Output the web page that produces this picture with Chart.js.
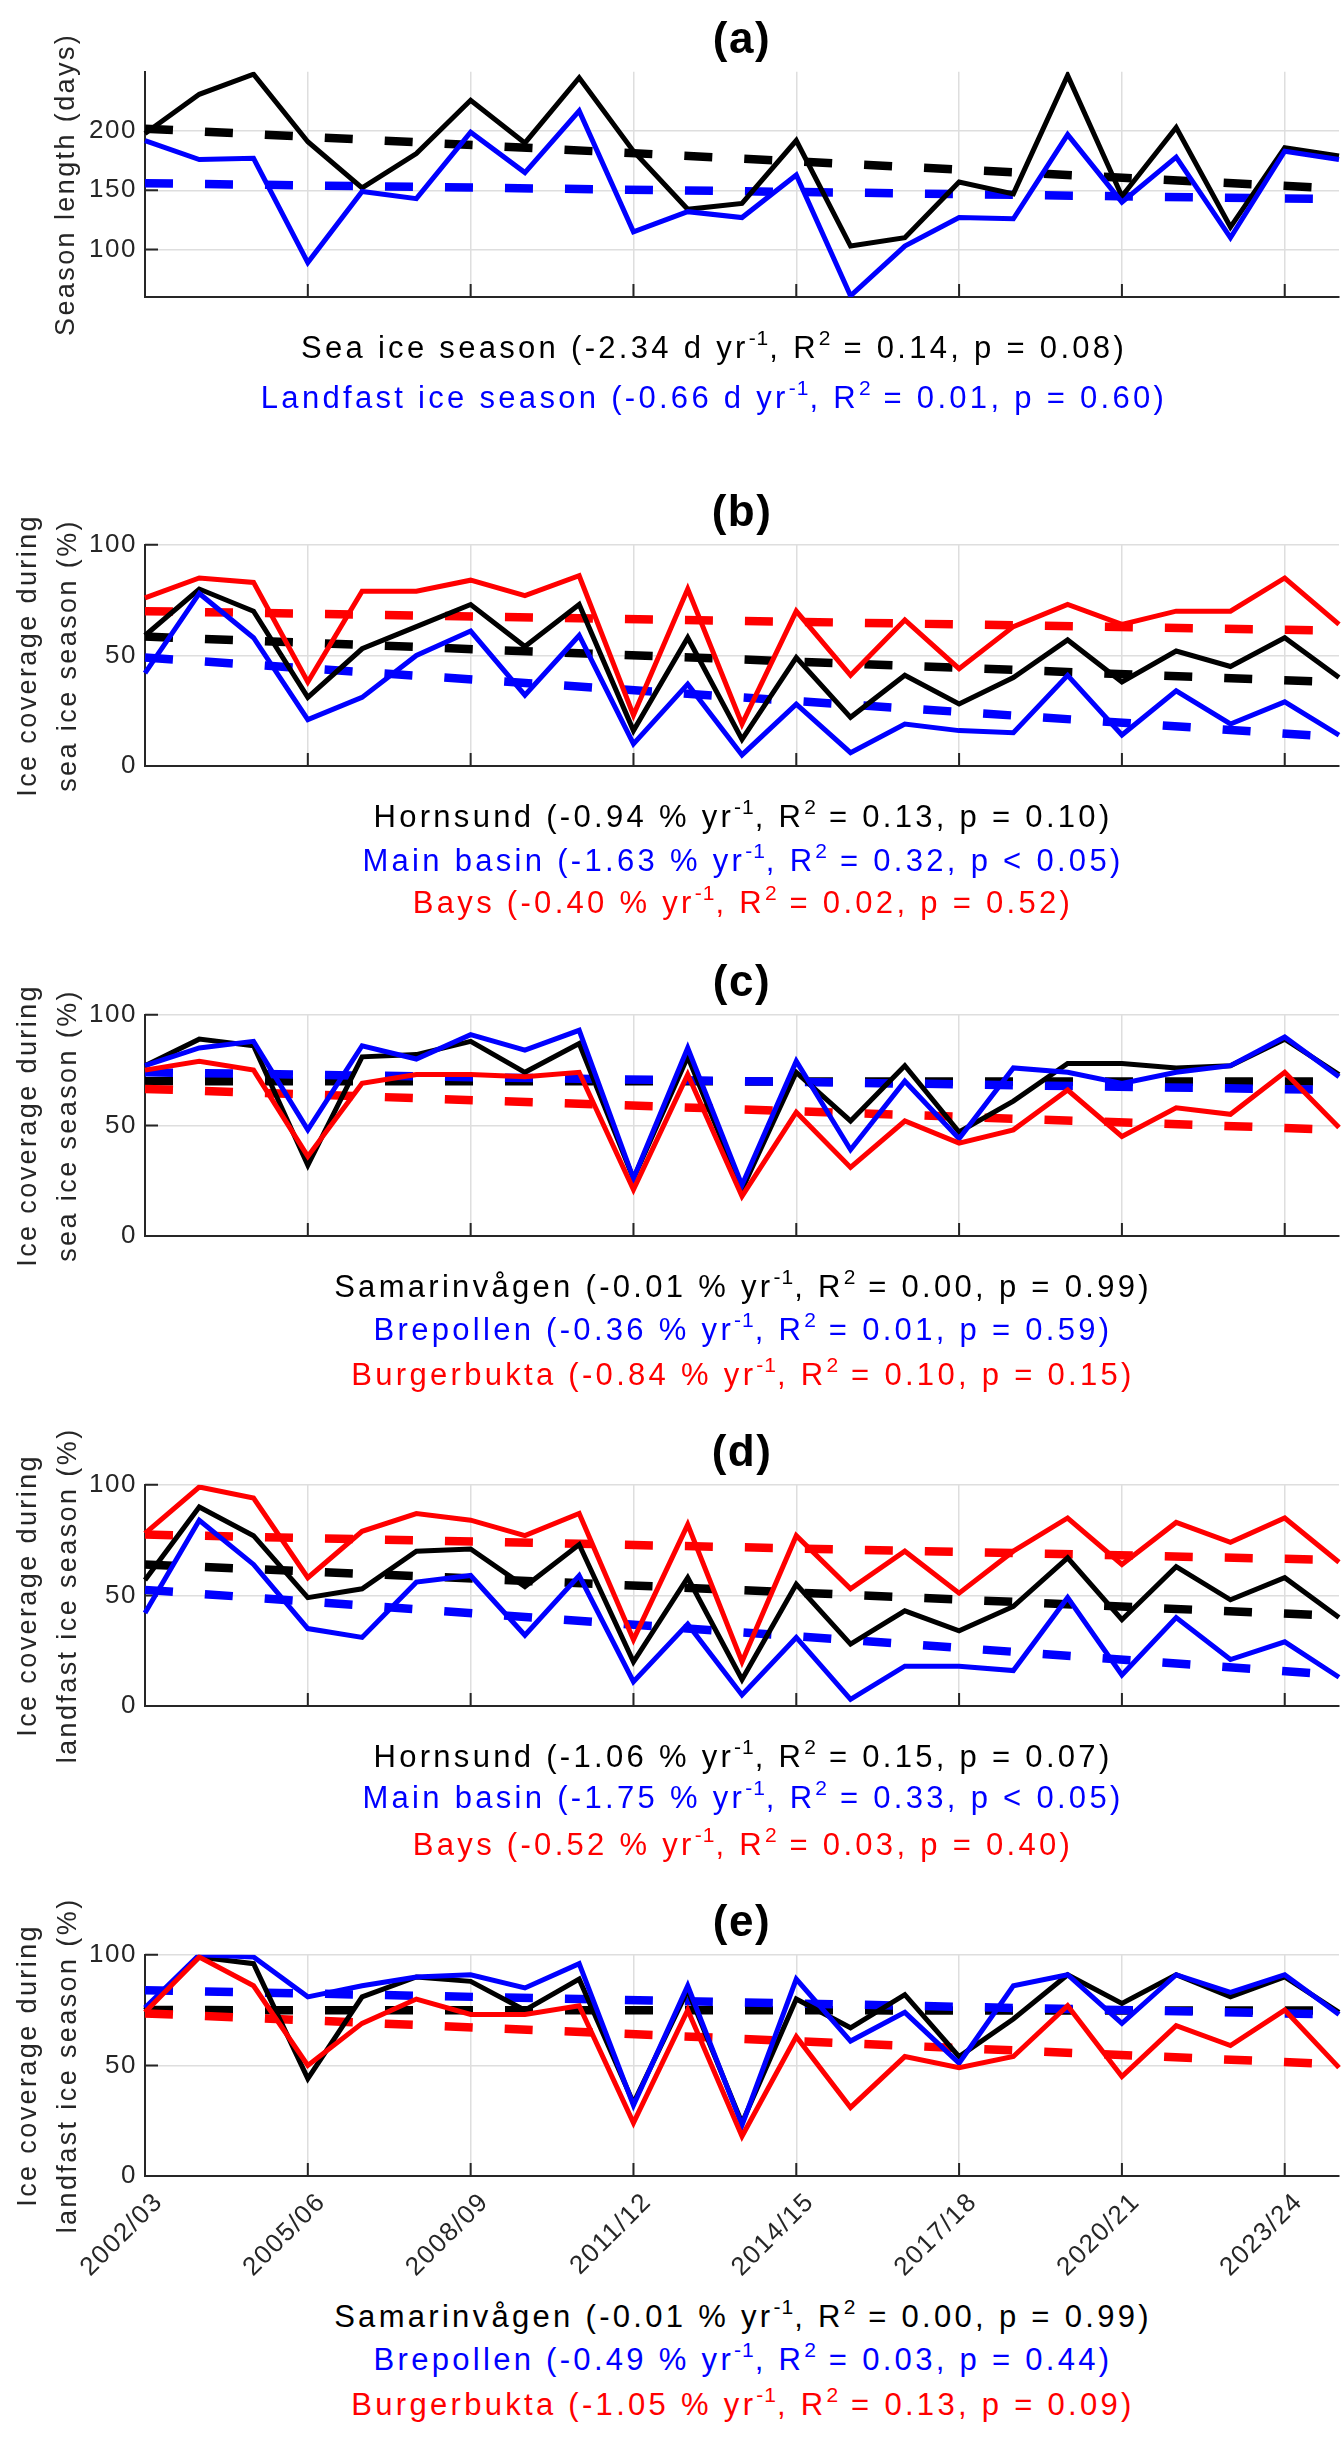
<!DOCTYPE html>
<html>
<head>
<meta charset="utf-8">
<script src="https://cdn.jsdelivr.net/npm/chart.js@4.4.1/dist/chart.umd.min.js"></script>
<style>
  body { margin: 0; background: #fff; }
  #page { position: relative; width: 1341px; height: 2439px; overflow: hidden; font-family: "Liberation Sans", Arial, sans-serif; }
  .box { position: absolute; left: 0; width: 1341px; }
  .note { position: absolute; width: 1200px; font-size: 31px; letter-spacing: 3.3px; line-height: 40px; white-space: nowrap; text-align: center; }
  .note sup { font-size: 21px; vertical-align: 13px; line-height: 0; letter-spacing: 1px; }
  .k { color: #000; } .b { color: #0000ff; } .r { color: #ff0000; }
</style>
</head>
<body>
<div id="page">
  <div class="box" style="top:0px;height:362px"><canvas id="pa"></canvas></div>
  <div class="box" style="top:473px;height:358px"><canvas id="pb"></canvas></div>
  <div class="box" style="top:943px;height:358px"><canvas id="pc"></canvas></div>
  <div class="box" style="top:1413px;height:358px"><canvas id="pd"></canvas></div>
  <div class="box" style="top:1883px;height:403px"><canvas id="pe"></canvas></div>

  <div class="note k" style="top:328px;left:114px">Sea ice season (-2.34 d yr<sup>-1</sup>, R<sup>2</sup> = 0.14, p = 0.08)</div>
  <div class="note b" style="top:378px;left:114px">Landfast ice season (-0.66 d yr<sup>-1</sup>, R<sup>2</sup> = 0.01, p = 0.60)</div>

  <div class="note k" style="top:797px;left:143px">Hornsund (-0.94 % yr<sup>-1</sup>, R<sup>2</sup> = 0.13, p = 0.10)</div>
  <div class="note b" style="top:841px;left:143px">Main basin (-1.63 % yr<sup>-1</sup>, R<sup>2</sup> = 0.32, p &lt; 0.05)</div>
  <div class="note r" style="top:883px;left:143px">Bays (-0.40 % yr<sup>-1</sup>, R<sup>2</sup> = 0.02, p = 0.52)</div>

  <div class="note k" style="top:1267px;left:143px">Samarinvågen (-0.01 % yr<sup>-1</sup>, R<sup>2</sup> = 0.00, p = 0.99)</div>
  <div class="note b" style="top:1310px;left:143px">Brepollen (-0.36 % yr<sup>-1</sup>, R<sup>2</sup> = 0.01, p = 0.59)</div>
  <div class="note r" style="top:1355px;left:143px">Burgerbukta (-0.84 % yr<sup>-1</sup>, R<sup>2</sup> = 0.10, p = 0.15)</div>

  <div class="note k" style="top:1737px;left:143px">Hornsund (-1.06 % yr<sup>-1</sup>, R<sup>2</sup> = 0.15, p = 0.07)</div>
  <div class="note b" style="top:1778px;left:143px">Main basin (-1.75 % yr<sup>-1</sup>, R<sup>2</sup> = 0.33, p &lt; 0.05)</div>
  <div class="note r" style="top:1825px;left:143px">Bays (-0.52 % yr<sup>-1</sup>, R<sup>2</sup> = 0.03, p = 0.40)</div>

  <div class="note k" style="top:2297px;left:143px">Samarinvågen (-0.01 % yr<sup>-1</sup>, R<sup>2</sup> = 0.00, p = 0.99)</div>
  <div class="note b" style="top:2340px;left:143px">Brepollen (-0.49 % yr<sup>-1</sup>, R<sup>2</sup> = 0.03, p = 0.44)</div>
  <div class="note r" style="top:2385px;left:143px">Burgerbukta (-1.05 % yr<sup>-1</sup>, R<sup>2</sup> = 0.13, p = 0.09)</div>
</div>

<script>
// seasons on the x axis, every third one gets a label
const seasons = ['2002/03','2003/04','2004/05','2005/06','2006/07','2007/08','2008/09','2009/10',
  '2010/11','2011/12','2012/13','2013/14','2014/15','2015/16','2016/17','2017/18','2018/19',
  '2019/20','2020/21','2021/22','2022/23','2023/24','2024/25'];

// (a) season length, days
const seaIceSeason   = [198,231,248,191,152,181,226,190,245,183,134,139,192,103,110,157,147,247,145,203,119,186,179];
const landfastSeason = [192,176,177,89,149,143,199,165,217,115,132,127,163,61,103,127,126,197,140,178,110,183,176];
const seaIceTrend    = [202, 151.5];
const landfastTrend  = [156, 142.5];
const ticksA = [100, 150, 200];

// (b) ice coverage during sea ice season, %
const hornsundSea   = [59,80,70,31,53,63,73,54,73,16,58,12,49,22,41,28,40,57,38,52,45,58,40];
const mainBasinSea  = [42,78,58,21,31,50,61,32,59,10,37,5,28,6,19,16,15,41,14,34,19,29,14];
const baysSea       = [76,85,83,38,79,79,84,77,86,23,80,19,70,41,66,44,63,73,64,70,70,85,64];
const hornsundSeaTrend  = [58.5, 37.8];
const mainBasinSeaTrend = [49, 13];
const baysSeaTrend      = [70, 61.2];

// (c) sea ice season, glacier bays
const samarinSea   = [77,89,86,32,81,82,88,74,87,26,81,21,74,52,77,47,61,78,78,76,77,89,73];
const brepollenSea = [77,85,88,48,86,80,91,84,93,26,85,23,79,39,70,44,76,74,69,74,77,90,72];
const burgerSea    = [75,79,75,36,69,73,73,72,74,21,73,18,56,31,52,42,48,66,45,58,55,74,49];
const samarinSeaTrend   = [70, 69.8];
const brepollenSeaTrend = [74, 66];
const burgerSeaTrend    = [66.5, 48];

// (d) ice coverage during landfast ice season, %
const hornsundFast  = [57,90,77,49,53,70,71,54,73,20,58,12,55,28,43,34,45,67,39,63,48,58,40];
const mainBasinFast = [42,84,64,35,31,56,59,32,59,11,37,5,31,3,18,18,16,49,14,40,21,29,13];
const baysFast      = [78,99,94,58,79,87,84,77,87,30,82,20,77,53,70,51,70,85,64,83,74,85,65];
const hornsundFastTrend  = [64, 40.7];
const mainBasinFastTrend = [52.5, 14];
const baysFastTrend      = [77.5, 66];

// (e) landfast ice season, glacier bays
const samarinFast   = [75,99,96,44,81,90,88,75,89,33,84,24,80,67,82,54,71,91,78,91,81,90,74];
const brepollenFast = [76,100,99,81,86,90,91,85,96,32,86,23,89,61,74,51,86,91,69,91,83,91,73];
const burgerFast    = [74,99,86,50,69,80,73,73,77,24,75,18,63,31,54,49,54,77,45,68,59,75,49];
const samarinFastTrend   = [75, 74.8];
const brepollenFastTrend = [84, 73];
const burgerFastTrend    = [73.5, 50.5];

const ticksPct = [0, 50, 100];

const BLACK = '#000000', BLUE = '#0000ff', RED = '#ff0000';
const axisCol = '#262626';
const gridCol = '#dedede';
const FONT = '"Liberation Sans", Arial, sans-serif';

Chart.defaults.font.family = FONT;

// matlab style: ticks point into the plot
const insideTicks = {
  id: 'insideTicks',
  beforeDatasetsDraw(chart) {
    const { ctx, chartArea, scales: { x, y } } = chart;
    ctx.save();
    ctx.strokeStyle = axisCol;
    ctx.lineWidth = 2;
    ctx.beginPath();
    x.ticks.forEach((t, i) => {
      if (i % 3) return;
      const px = x.getPixelForTick(i);
      ctx.moveTo(px, chartArea.bottom);
      ctx.lineTo(px, chartArea.bottom - 13);
    });
    y.ticks.forEach(t => {
      const py = y.getPixelForValue(t.value);
      ctx.moveTo(chartArea.left, py);
      ctx.lineTo(chartArea.left + 13, py);
    });
    ctx.stroke();
    ctx.restore();
  }
};

const spacing = {
  id: 'spacing',
  beforeLayout(chart) { chart.ctx.letterSpacing = '1.5px'; },
  beforeDraw(chart) { chart.ctx.letterSpacing = '1.5px'; }
};

// y title drawn by hand so it can run past the plot height like the original
const yTitle = {
  id: 'yTitle',
  afterDraw(chart, args, opts) {
    const { ctx, chartArea } = chart;
    const mid = (chartArea.top + chartArea.bottom) / 2;
    ctx.save();
    ctx.font = '27px ' + FONT;
    ctx.letterSpacing = '2.4px';
    ctx.fillStyle = axisCol;
    ctx.textAlign = 'center';
    ctx.textBaseline = 'middle';
    opts.lines.forEach((line, i) => {
      ctx.save();
      ctx.translate(opts.x[i], mid);
      ctx.rotate(-Math.PI / 2);
      ctx.fillText(line, 0, 0);
      ctx.restore();
    });
    ctx.restore();
  }
};

// season labels at 45 degrees, right end hanging off the tick
const xLabels = {
  id: 'xLabels',
  afterDraw(chart, args, opts) {
    if (!opts.show) return;
    const { ctx, chartArea, scales: { x } } = chart;
    ctx.save();
    ctx.font = '26px ' + FONT;
    ctx.letterSpacing = '1.5px';
    ctx.fillStyle = axisCol;
    ctx.textAlign = 'right';
    ctx.textBaseline = 'middle';
    seasons.forEach((s, i) => {
      if (i % 3) return;
      ctx.save();
      ctx.translate(x.getPixelForTick(i) + 14, chartArea.bottom + 22);
      ctx.rotate(-Math.PI / 4);
      ctx.fillText(s, 0, 0);
      ctx.restore();
    });
    ctx.restore();
  }
};

function makePanel(id, title, yLines, yMin, yMax, yTicks, lines, trends, showX) {
  const datasets = [];
  // first dataset ends up on top: solid series over the dashed trends
  lines.slice().reverse().forEach(l => datasets.push({
    data: l.data, borderColor: l.color, borderWidth: 5, pointRadius: 0, tension: 0,
    borderJoinStyle: 'miter'
  }));
  trends.slice().reverse().forEach(t => datasets.push({
    data: [{ x: seasons[0], y: t.ends[0] }, { x: seasons[seasons.length - 1], y: t.ends[1] }],
    borderColor: t.color, borderWidth: 8.5, borderDash: [28, 32], borderCapStyle: 'butt',
    pointRadius: 0, tension: 0
  }));

  new Chart(document.getElementById(id), {
    type: 'line',
    data: { labels: seasons, datasets },
    plugins: [insideTicks, spacing, yTitle, xLabels],
    options: {
      responsive: true,
      maintainAspectRatio: false,
      animation: false,
      layout: { padding: { right: 2, bottom: showX ? 110 : 65 } },
      plugins: {
        legend: { display: false },
        tooltip: { enabled: false },
        yTitle: { lines: yLines, x: yLines.length > 1 ? [29, 69] : [67] },
        xLabels: { show: showX },
        title: {
          display: true, text: title, fullSize: false, color: '#000',
          font: { size: 44, weight: 'bold', lineHeight: 1.2 },
          padding: { top: 14, bottom: 5 }
        }
      },
      scales: {
        x: {
          type: 'category',
          offset: false,
          afterFit: s => { s.paddingLeft = 0; s.paddingRight = 0; },
          grid: {
            color: c => (c.index % 3 === 0 ? gridCol : 'rgba(0,0,0,0)'),
            lineWidth: 1.5, drawTicks: false
          },
          border: { color: axisCol, width: 2 },
          ticks: { display: false, autoSkip: false }
        },
        y: {
          min: yMin, max: yMax,
          afterBuildTicks: s => { s.ticks = yTicks.map(v => ({ value: v })); },
          afterFit: s => { s.width = 145; s.paddingTop = 0; s.paddingBottom = 0; },
          grid: { color: gridCol, lineWidth: 1.5, drawTicks: false },
          border: { color: axisCol, width: 2 },
          ticks: { padding: 8, color: axisCol, font: { size: 26 } }
        }
      }
    }
  });
}

makePanel('pa', '(a)', ['Season length (days)'], 60, 250, ticksA,
  [{ data: seaIceSeason, color: BLACK }, { data: landfastSeason, color: BLUE }],
  [{ ends: seaIceTrend, color: BLACK }, { ends: landfastTrend, color: BLUE }], false);

makePanel('pb', '(b)', ['Ice coverage during', 'sea ice season (%)'], 0, 100, ticksPct,
  [{ data: hornsundSea, color: BLACK }, { data: mainBasinSea, color: BLUE }, { data: baysSea, color: RED }],
  [{ ends: hornsundSeaTrend, color: BLACK }, { ends: mainBasinSeaTrend, color: BLUE }, { ends: baysSeaTrend, color: RED }], false);

makePanel('pc', '(c)', ['Ice coverage during', 'sea ice season (%)'], 0, 100, ticksPct,
  [{ data: samarinSea, color: BLACK }, { data: brepollenSea, color: BLUE }, { data: burgerSea, color: RED }],
  [{ ends: samarinSeaTrend, color: BLACK }, { ends: brepollenSeaTrend, color: BLUE }, { ends: burgerSeaTrend, color: RED }], false);

makePanel('pd', '(d)', ['Ice coverage during', 'landfast ice season (%)'], 0, 100, ticksPct,
  [{ data: hornsundFast, color: BLACK }, { data: mainBasinFast, color: BLUE }, { data: baysFast, color: RED }],
  [{ ends: hornsundFastTrend, color: BLACK }, { ends: mainBasinFastTrend, color: BLUE }, { ends: baysFastTrend, color: RED }], false);

makePanel('pe', '(e)', ['Ice coverage during', 'landfast ice season (%)'], 0, 100, ticksPct,
  [{ data: samarinFast, color: BLACK }, { data: brepollenFast, color: BLUE }, { data: burgerFast, color: RED }],
  [{ ends: samarinFastTrend, color: BLACK }, { ends: brepollenFastTrend, color: BLUE }, { ends: burgerFastTrend, color: RED }], true);
</script>
</body>
</html>
